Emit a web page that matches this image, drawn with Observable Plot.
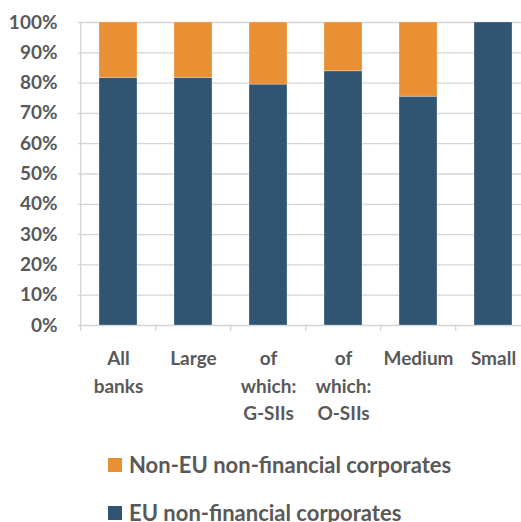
<!DOCTYPE html>
<html>
<head>
<meta charset="utf-8">
<script src="https://cdn.jsdelivr.net/npm/d3@7"></script>
<script src="https://cdn.jsdelivr.net/npm/@observablehq/plot@0.6"></script>
<style>
  html, body { margin: 0; padding: 0; background: #fff; overflow: hidden; }
  #wrap { position: relative; width: 521px; height: 522px; overflow: hidden; font-family: Lato, "Open Sans", sans-serif; }
  #chart { position: absolute; left: 0; top: 0; width: 540px; }
  #chart svg { max-width: none !important; }
  .leg { position: absolute; left: 108px; display: flex; align-items: center; font-size: 22px; color: #595959; font-weight: 700; white-space: nowrap; }
  .sw { width: 14px; height: 14px; margin-right: 7px; }
</style>
</head>
<body>
<div id="wrap">
  <div id="chart"></div>
  <div id="legend"></div>
</div>
<script>
const categories = ["All\nbanks", "Large", "of\nwhich:\nG-SIIs", "of\nwhich:\nO-SIIs", "Medium", "Small"];
const seriesNames = ["EU non-financial corporates", "Non-EU non-financial corporates"];
const euValues = [81.7, 81.7, 79.5, 83.9, 75.5, 100];
const nonEuValues = [18.3, 18.3, 20.5, 16.1, 24.5, 0];
const colors = ["#2F5572", "#E89033"];
const yTicks = [0, 10, 20, 30, 40, 50, 60, 70, 80, 90, 100];

const rows = [];
categories.forEach((c, i) => {
  rows.push({cat: c, series: seriesNames[0], value: euValues[i]});
  rows.push({cat: c, series: seriesNames[1], value: nonEuValues[i]});
});

const W = 532, ML = 78;
const step = (W - ML) / categories.length;
const textColor = "#595959";

const chart = Plot.plot({
  width: W,
  height: 430,
  marginLeft: ML,
  marginRight: 0,
  marginTop: 22,
  marginBottom: 105,
  style: {fontFamily: "Lato, 'Open Sans', sans-serif", fontSize: "19px", color: textColor, background: "#fff", maxWidth: "none"},
  x: {domain: categories, paddingInner: 0.5, paddingOuter: 0.25, label: null},
  y: {domain: [0, 100], label: null},
  color: {domain: seriesNames, range: colors},
  marks: [
    Plot.gridY(yTicks, {stroke: "#d4d4d4", strokeOpacity: 1, strokeWidth: 1.3}),
    Plot.ruleX([categories[0]], {x: d => d, dx: -step / 2, stroke: "#d4d4d4", strokeWidth: 1.3}),
    Plot.barY(rows, {x: "cat", y: "value", fill: "series", stroke: "#ffffff", strokeOpacity: 0.35, strokeWidth: 0.8}),
    Plot.axisY(yTicks, {tickSize: 0, tickPadding: 21, tickFormat: d => d + "%", fontWeight: "bold", fill: textColor}),
    Plot.axisX({tickSize: 6, tickFormat: null, dx: -step / 2, stroke: "#d4d4d4", strokeWidth: 1.3}),
    Plot.axisX({tickSize: 0, tickPadding: 20, lineHeight: 1.45, fontWeight: "bold", fill: textColor})
  ]
});
chart.style.maxWidth = "none";
document.getElementById("chart").appendChild(chart);

const legend = document.getElementById("legend");
const legendOrder = [1, 0];
const legendTops = [451, 499];
legendOrder.forEach((k, j) => {
  const item = document.createElement("div");
  item.className = "leg";
  item.style.top = legendTops[j] + "px";
  const sw = document.createElement("span");
  sw.className = "sw";
  sw.style.background = colors[k];
  const t = document.createElement("span");
  t.textContent = seriesNames[k];
  item.appendChild(sw);
  item.appendChild(t);
  legend.appendChild(item);
});
</script>
</body>
</html>
